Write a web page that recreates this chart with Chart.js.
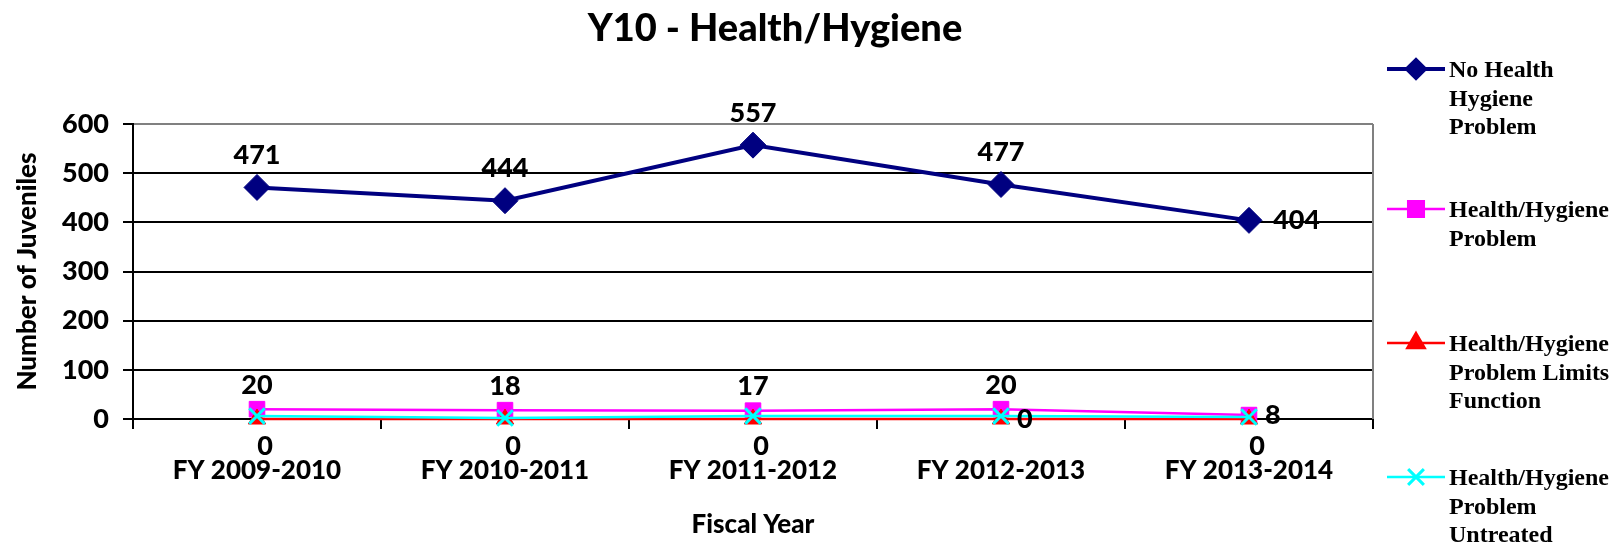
<!DOCTYPE html>
<html>
<head>
<meta charset="utf-8">
<title>Y10 - Health/Hygiene</title>
<script src="https://cdn.jsdelivr.net/npm/chart.js@4.4.1/dist/chart.umd.min.js"></script>
<style>
    html, body { margin: 0; padding: 0; background: #fff; }
    #wrap { position: relative; width: 1623px; height: 549px; }
</style>
</head>
<body>
<div id="wrap"><canvas id="chart" width="1623" height="549"></canvas></div>
<script>
// chart data
const chartTitle = 'Y10 - Health/Hygiene';
const categories = ['FY 2009-2010', 'FY 2010-2011', 'FY 2011-2012', 'FY 2012-2013', 'FY 2013-2014'];
const noProblem = [471, 444, 557, 477, 404];
const hygieneProblem = [20, 18, 17, 20, 8];
const limitsFunction = [0, 0, 0, 0, 0];
const untreated = [6, 2, 6, 6, 4];
const yTicks = [0, 100, 200, 300, 400, 500, 600];
const legendNames = [
    ['No Health', 'Hygiene', 'Problem'],
    ['Health/Hygiene', 'Problem'],
    ['Health/Hygiene', 'Problem Limits', 'Function'],
    ['Health/Hygiene', 'Problem', 'Untreated']
];

const SANS = 'Lato, "Open Sans", sans-serif';
const SERIF = '"Liberation Serif", "DejaVu Serif", serif';
const HEAVY = '900';

// where each value label sits relative to its point
const labelSpots = [
    ['top', 'top', 'top', 'top', 'right'],
    ['top', 'top', 'top', 'top', 'right'],
    ['bottom', 'bottom', 'bottom', 'right', 'bottom'],
    null
];

// Title drawn above the plot
const titlePlugin = {
    id: 'titleText',
    afterDraw(chart) {
        const ctx = chart.ctx;
        ctx.save();
        ctx.font = HEAVY + ' 38px ' + SANS;
        ctx.fillStyle = '#000';
        ctx.textAlign = 'center';
        ctx.textBaseline = 'middle';
        ctx.fillText(chartTitle, 775, 29);
        ctx.restore();
    }
};

// Gray right border of the plot
const borderPlugin = {
    id: 'rightBorder',
    beforeDatasetsDraw(chart) {
        const { ctx, chartArea } = chart;
        ctx.save();
        ctx.strokeStyle = '#808080';
        ctx.lineWidth = 2;
        ctx.beginPath();
        ctx.moveTo(chartArea.right, chartArea.top);
        ctx.lineTo(chartArea.right, chartArea.bottom);
        ctx.stroke();
        ctx.restore();
    }
};

// Value labels next to the points
const valueLabels = {
    id: 'valueLabels',
    afterDatasetsDraw(chart) {
        const ctx = chart.ctx;
        ctx.save();
        ctx.font = HEAVY + ' 27px ' + SANS;
        ctx.fillStyle = '#000';
        chart.data.datasets.forEach((ds, di) => {
            const spots = labelSpots[di];
            if (!spots) return;
            const meta = chart.getDatasetMeta(di);
            meta.data.forEach((pt, i) => {
                const txt = String(ds.data[i]);
                const spot = spots[i];
                if (spot === 'top') {
                    ctx.textAlign = 'center';
                    ctx.textBaseline = 'middle';
                    ctx.fillText(txt, pt.x, pt.y - (di === 0 ? 32 : 24));
                } else if (spot === 'bottom') {
                    ctx.textAlign = 'center';
                    ctx.textBaseline = 'middle';
                    ctx.fillText(txt, pt.x + 8, pt.y + 27);
                } else {
                    ctx.textAlign = 'left';
                    ctx.textBaseline = 'middle';
                    ctx.fillText(txt, pt.x + (di === 0 ? 24 : 16), pt.y);
                }
            });
        });
        ctx.restore();
    }
};

// Legend on the right, wrapped lines like the original
const legendPlugin = {
    id: 'sideLegend',
    afterDraw(chart) {
        const ctx = chart.ctx;
        const rows = [69, 209, 343, 477];
        ctx.save();
        chart.data.datasets.forEach((ds, di) => {
            const y = rows[di];
            ctx.strokeStyle = ds.borderColor;
            ctx.lineWidth = ds.borderWidth;
            ctx.beginPath();
            ctx.moveTo(1387, y);
            ctx.lineTo(1445, y);
            ctx.stroke();
            Chart.helpers.drawPoint(ctx, {
                pointStyle: ds.pointStyle,
                radius: ds.legendRadius,
                borderWidth: ds.pointBorderWidth || 1,
                rotation: 0
            }, 1416, y);
            ctx.fillStyle = ds.pointBackgroundColor;
            ctx.strokeStyle = ds.pointBorderColor;
            ctx.lineWidth = ds.pointBorderWidth || 1;
            if (ds.pointStyle !== 'crossRot') ctx.fill();
            ctx.stroke();

            ctx.fillStyle = '#000';
            ctx.font = 'bold 24px ' + SERIF;
            ctx.textAlign = 'left';
            ctx.textBaseline = 'middle';
            legendNames[di].forEach((line, li) => {
                ctx.fillText(line, 1449, y + 2 + li * 28.5);
            });
        });
        ctx.restore();
    }
};

function series(label, data, color, style, radius, legendRadius, lineW, order) {
    return {
        label: label,
        data: data,
        borderColor: color,
        backgroundColor: color,
        pointBackgroundColor: color,
        pointBorderColor: color,
        pointStyle: style,
        pointRadius: radius,
        pointHoverRadius: radius,
        pointBorderWidth: style === 'crossRot' ? 3 : 1,
        legendRadius: legendRadius,
        borderWidth: lineW,
        tension: 0,
        clip: false,
        order: order
    };
}

const ctx = document.getElementById('chart').getContext('2d');
new Chart(ctx, {
    type: 'line',
    data: {
        labels: categories,
        datasets: [
            series(legendNames[0].join(' '), noProblem, '#000080', 'rectRot', 13, 9, 4, 3),
            series(legendNames[1].join(' '), hygieneProblem, '#FF00FF', 'rect', 11, 11, 2.5, 2),
            series(legendNames[2].join(' '), limitsFunction, '#FF0000', 'triangle', 10, 10, 2.5, 1),
            series(legendNames[3].join(' '), untreated, '#00FFFF', 'crossRot', 11, 11, 2.5, 0)
        ]
    },
    options: {
        responsive: false,
        animation: false,
        devicePixelRatio: 1,
        layout: { padding: { top: 124, right: 250, left: 0, bottom: 0 } },
        plugins: {
            legend: { display: false },
            title: { display: false },
            tooltip: { enabled: false }
        },
        scales: {
            x: {
                type: 'category',
                offset: true,
                afterFit: (scale) => { scale.height = 130; },
                grid: {
                    offset: true,
                    drawOnChartArea: false,
                    drawTicks: true,
                    tickLength: 10,
                    color: '#000',
                    lineWidth: 2
                },
                border: { color: '#000', width: 2 },
                ticks: {
                    padding: 26,
                    color: '#000',
                    maxRotation: 0,
                    font: { family: SANS, size: 26, weight: HEAVY }
                },
                title: {
                    display: true,
                    text: 'Fiscal Year',
                    color: '#000',
                    padding: { top: 0, bottom: 9 },
                    font: { family: SANS, size: 26, weight: HEAVY }
                }
            },
            y: {
                min: yTicks[0],
                max: yTicks[yTicks.length - 1],
                afterFit: (scale) => { scale.width = 133; },
                afterBuildTicks: (scale) => { scale.ticks = yTicks.map(v => ({ value: v })); },
                grid: {
                    color: (c) => (c.tick && c.tick.value === 600 ? '#808080' : '#000'),
                    tickColor: '#000',
                    lineWidth: 2,
                    tickLength: 10
                },
                border: { color: '#000', width: 2 },
                ticks: {
                    padding: 14,
                    color: '#000',
                    font: { family: SANS, size: 27, weight: HEAVY }
                },
                title: {
                    display: true,
                    text: 'Number of Juveniles',
                    color: '#000',
                    padding: { top: 12, bottom: 0 },
                    font: { family: SANS, size: 26, weight: HEAVY }
                }
            }
        }
    },
    plugins: [titlePlugin, borderPlugin, valueLabels, legendPlugin]
});
</script>
</body>
</html>
